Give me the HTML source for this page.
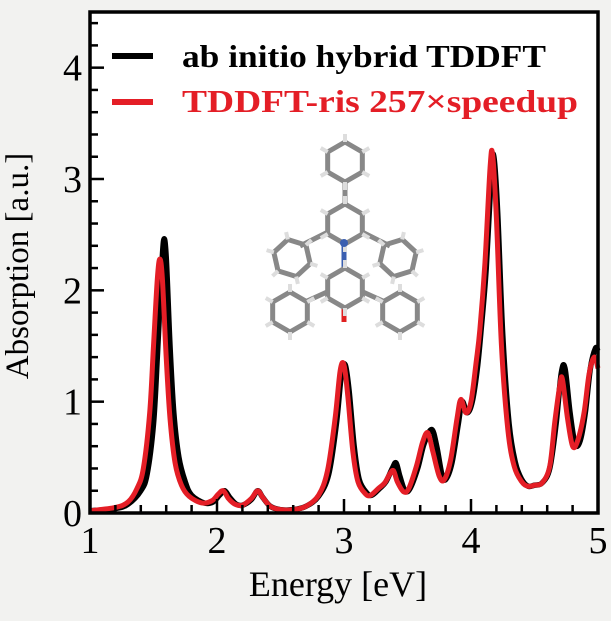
<!DOCTYPE html>
<html><head><meta charset="utf-8">
<style>
html,body{margin:0;padding:0;background:#f2f2f0;}
svg{display:block;font-family:"Liberation Serif",serif;}
</style></head>
<body>
<svg width="611" height="621" viewBox="0 0 611 621">
<rect x="90" y="12" width="508" height="501" fill="#fff"/>
<g id="mol"></g>
<g id="series"></g>
<rect x="90" y="12" width="508" height="501" fill="none" stroke="#000" stroke-width="3.5"/>
<g id="ticks"></g>
<text x="28" y="266" font-size="33" text-anchor="middle" transform="rotate(-90 28 266)">Absorption [a.u.]</text>
<text x="338" y="596" font-size="36" text-anchor="middle">Energy [eV]</text>
<g>
<line x1="112" y1="56" x2="153" y2="56" stroke="#000" stroke-width="6"/>
<text x="182" y="67" font-size="32" font-weight="bold" fill="#000" textLength="364" lengthAdjust="spacingAndGlyphs">ab initio hybrid TDDFT</text>
<line x1="112" y1="102" x2="153" y2="102" stroke="#e41e26" stroke-width="6"/>
<text x="182" y="112" font-size="32" font-weight="bold" fill="#e41e26" textLength="396" lengthAdjust="spacingAndGlyphs">TDDFT-ris 257×speedup</text>
</g>
</svg>
<script>
const blackX=[1.0,1.2,1.3,1.4,1.45,1.5,1.53,1.56,1.58,1.60,1.63,1.66,1.7,1.75,1.8,1.9,1.97,2.02,2.06,2.1,2.15,2.2,2.27,2.32,2.36,2.42,2.5,2.6,2.7,2.8,2.88,2.94,2.98,3.01,3.04,3.08,3.12,3.18,3.22,3.28,3.33,3.38,3.41,3.44,3.48,3.52,3.58,3.63,3.69,3.73,3.77,3.8,3.85,3.9,3.93,3.97,4.01,4.05,4.08,4.12,4.16,4.18,4.21,4.25,4.3,4.35,4.4,4.45,4.5,4.56,4.62,4.67,4.71,4.74,4.78,4.82,4.86,4.9,4.94,4.98,5.0];
const blackY=[0.02,0.04,0.08,0.2,0.35,0.8,1.4,2.1,2.45,2.3,1.5,0.9,0.5,0.28,0.16,0.09,0.1,0.16,0.2,0.14,0.08,0.07,0.12,0.2,0.14,0.06,0.03,0.03,0.06,0.15,0.35,0.8,1.25,1.33,1.1,0.6,0.3,0.18,0.16,0.22,0.28,0.4,0.45,0.33,0.2,0.22,0.4,0.62,0.75,0.6,0.35,0.3,0.45,0.8,1.0,0.9,1.0,1.3,1.65,2.2,3.05,3.2,2.7,1.6,0.8,0.45,0.3,0.24,0.25,0.27,0.4,0.8,1.25,1.3,0.9,0.62,0.65,0.9,1.3,1.48,1.45];
const redX=[1.0,1.2,1.3,1.37,1.42,1.47,1.5,1.53,1.55,1.57,1.6,1.63,1.67,1.72,1.78,1.88,1.96,2.01,2.05,2.09,2.14,2.2,2.27,2.32,2.36,2.42,2.5,2.6,2.7,2.8,2.87,2.93,2.97,3.0,3.03,3.07,3.11,3.17,3.21,3.27,3.32,3.36,3.39,3.42,3.47,3.51,3.57,3.62,3.66,3.7,3.75,3.79,3.84,3.89,3.92,3.96,4.0,4.04,4.07,4.11,4.15,4.17,4.2,4.24,4.29,4.34,4.4,4.45,4.5,4.56,4.62,4.66,4.7,4.72,4.76,4.8,4.84,4.89,4.93,4.97,5.0];
const redY=[0.02,0.05,0.1,0.22,0.4,0.9,1.5,2.1,2.28,2.1,1.4,0.85,0.45,0.25,0.15,0.09,0.11,0.17,0.2,0.13,0.08,0.07,0.13,0.2,0.14,0.06,0.03,0.03,0.06,0.16,0.38,0.85,1.28,1.33,1.05,0.55,0.28,0.17,0.16,0.22,0.27,0.35,0.38,0.28,0.19,0.22,0.42,0.64,0.72,0.55,0.33,0.3,0.48,0.85,1.02,0.9,1.0,1.35,1.65,2.25,3.1,3.22,2.65,1.5,0.75,0.42,0.28,0.24,0.25,0.27,0.42,0.82,1.15,1.2,0.85,0.6,0.65,0.9,1.25,1.4,1.3];
const xTicks=[1,2,3,4,5];
const yTicks=[0,1,2,3,4];
const NS="http://www.w3.org/2000/svg";
const X0=90,X1=598,Y0=513,Y1=12,XMIN=1,XMAX=5,YMIN=0,YMAX=4.5;
const sx=v=>X0+(v-XMIN)/(XMAX-XMIN)*(X1-X0);
const sy=v=>Y0-(v-YMIN)/(YMAX-YMIN)*(Y0-Y1);
function mk(tag,attrs,parent){const e=document.createElementNS(NS,tag);for(const k in attrs)e.setAttribute(k,attrs[k]);parent.appendChild(e);return e;}
function pathFor(xs,ys){const p=xs.map((x,i)=>[sx(x),sy(ys[i])]);let d="M"+p[0][0]+","+p[0][1];
for(let i=0;i<p.length-1;i++){const a=p[Math.max(0,i-1)],b=p[i],c=p[i+1],e=p[Math.min(p.length-1,i+2)];
const c1=[b[0]+(c[0]-a[0])/6,b[1]+(c[1]-a[1])/6],c2=[c[0]-(e[0]-b[0])/6,c[1]-(e[1]-b[1])/6];
d+=" C"+c1[0]+","+c1[1]+" "+c2[0]+","+c2[1]+" "+c[0]+","+c[1];}return d;}
const S=document.getElementById("series");
const pb=mk("path",{d:pathFor(blackX,blackY),fill:"none",stroke:"#000","stroke-width":5.5,"stroke-linejoin":"round"},S);


const pr=mk("path",{d:pathFor(redX,redY),fill:"none",stroke:"#e41e26","stroke-width":5,"stroke-linejoin":"round"},S);


const T=document.getElementById("ticks");
for(let v=1;v<=5.001;v+=0.2){const x=sx(v);const major=Math.abs(v-Math.round(v))<0.01;
const l=mk("line",{x1:x,x2:x,y1:Y0,y2:Y0-(major?14:8),stroke:"#000","stroke-width":2.5},T);

}
for(let v=0;v<=4.501;v+=0.2){const y=sy(v);const major=Math.abs(v-Math.round(v))<0.01;
const l=mk("line",{x1:X0,x2:X0+(major?14:8),y1:y,y2:y,stroke:"#000","stroke-width":2.5},T);

}
xTicks.forEach(v=>{const t=mk("text",{x:sx(v),y:553,"font-size":38,"text-anchor":"middle"},T);t.textContent=v;

});
yTicks.forEach(v=>{const t=mk("text",{x:82,y:sy(v)+13,"font-size":38,"text-anchor":"end"},T);t.textContent=v;

});
// molecule
const M=document.getElementById("mol");
function hex(cx,cy,r,rot){const pts=[];for(let i=0;i<6;i++){const a=rot+i*Math.PI/3;pts.push([cx+r*Math.cos(a),cy+r*Math.sin(a)]);}return pts;}
function ring(cx,cy,r,rot){const p=hex(cx,cy,r,rot);
mk("polygon",{points:p.map(q=>q.join(",")).join(" "),fill:"none",stroke:"#888","stroke-width":5,"stroke-linejoin":"round"},M);
p.forEach(q=>{const dx=q[0]-cx,dy=q[1]-cy;mk("line",{x1:q[0],y1:q[1],x2:q[0]+dx*0.4,y2:q[1]+dy*0.4,stroke:"#ddd","stroke-width":4},M);});}
function bond(a,b,c,d,col){mk("line",{x1:a,y1:b,x2:c,y2:d,stroke:col||"#888","stroke-width":5},M);}
bond(345,182,345,203);bond(328,232,300,246);bond(362,232,390,246);bond(327,292,305,302);bond(363,292,385,302);
bond(344,243,344,268,"#3a5fb0");bond(344,308,344,322,"#e02020");
ring(345,162,20,Math.PI/2);ring(345,224,20,Math.PI/2);ring(345,288,20,Math.PI/2);
ring(292,258,19,0.3);ring(398,258,19,-0.3);ring(290,312,20,Math.PI/2);ring(400,312,20,Math.PI/2);
mk("circle",{cx:344,cy:243,r:4,fill:"#3a5fb0"},M);
</script>
</body></html>
